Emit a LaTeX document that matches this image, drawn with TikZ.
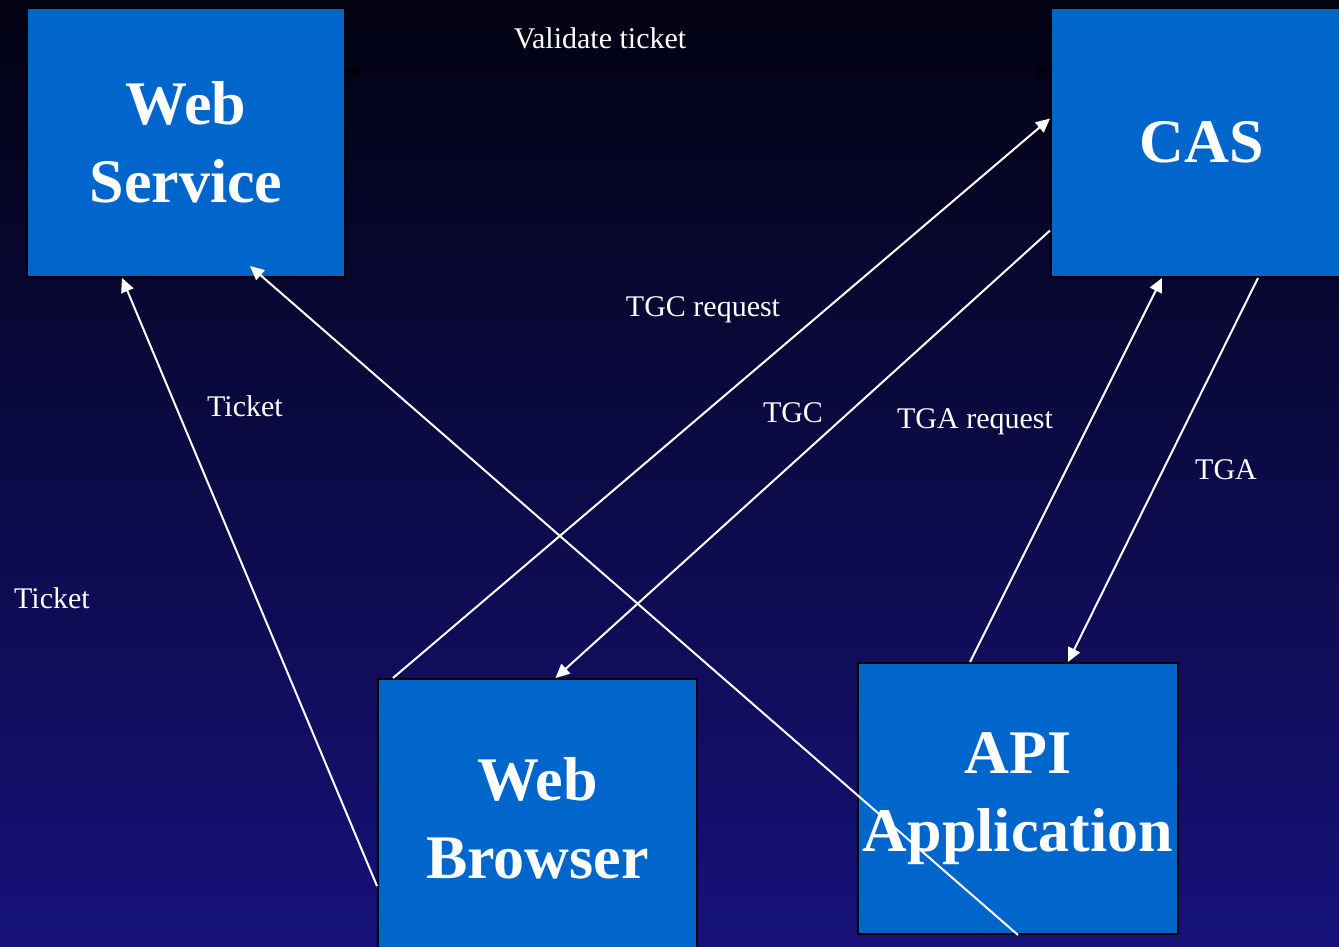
\documentclass[tikz,border=0pt]{standalone}
\usepackage{fontspec}
\setmainfont{Liberation Serif}
\usetikzlibrary{arrows.meta,positioning,calc}
\definecolor{boxblue}{RGB}{0,102,204}
\definecolor{bgtop}{RGB}{2,2,18}
\definecolor{bgmid}{RGB}{12,12,82}
\definecolor{bgbot}{RGB}{22,18,122}

\begin{document}
\begin{tikzpicture}[x=0.5pt, y=-0.5pt,
    sys/.style={draw=black, line width=1pt, fill=boxblue, text=white, align=center, inner sep=0pt, font=\fontsize{31}{39}\selectfont\bfseries},
    arr/.style={-{Triangle[length=7pt, width=6.5pt]}, white, line width=1pt},
    varr/.style={{Triangle[length=6pt, width=5pt]}-{Triangle[length=6pt, width=5pt]}, black, line width=0.9pt},
    lbl/.style={text=white, font=\fontsize{15}{18}\selectfont}
]
\useasboundingbox (0,0) rectangle (1339,947);
\clip (0,0) rectangle (1339,947);
\shade[top color=bgtop, middle color=bgmid, bottom color=bgbot] (0,0) rectangle (1339,947);

\node[sys, minimum width=159pt, minimum height=134.5pt] (ws) at (186,142.5) {Web\\Service};
\node[sys, minimum width=151pt, minimum height=134.5pt] (cas) at (1202,142.5) {CAS};
\node[sys, minimum width=159.5pt, minimum height=139pt] (wb) at (537.5,818) {Web\\Browser};
\node[sys, minimum width=160pt, minimum height=135.5pt] (api) at (1018,798.5) {API\\Application};

\node[lbl] (lvt) at (600,38) {Validate ticket};
\node[lbl] (ltgcr) at (703,310) {TGC request};
\node[lbl] (ltgc) at (793,413) {TGC};
\node[lbl] (ltk1) at (245,406) {Ticket};
\node[lbl] (ltk2) at (52,598) {Ticket};
\node[lbl] (ltgar) at (975,422) {TGA request};
\node[lbl] (ltga) at (1226,470) {TGA};

\draw[varr] ([yshift=36pt]ws.east) -- ([yshift=36pt]cas.west);
\draw[arr] ([xshift=8pt]wb.north west) -- ([yshift=12pt]cas.west);
\draw[arr] ([yshift=-44pt]cas.west) -- ([xshift=9pt]wb.north);
\draw[arr] ([yshift=-34pt]wb.west) -- ([xshift=-32pt]ws.south);
\draw[arr] (api.south) -- ([xshift=32pt, yshift=6pt]ws.south);
\draw[arr] ([xshift=-24pt]api.north) -- ([xshift=-20pt]cas.south);
\draw[arr] ([xshift=28pt]cas.south) -- ([xshift=25pt]api.north);
\end{tikzpicture}
\end{document}
